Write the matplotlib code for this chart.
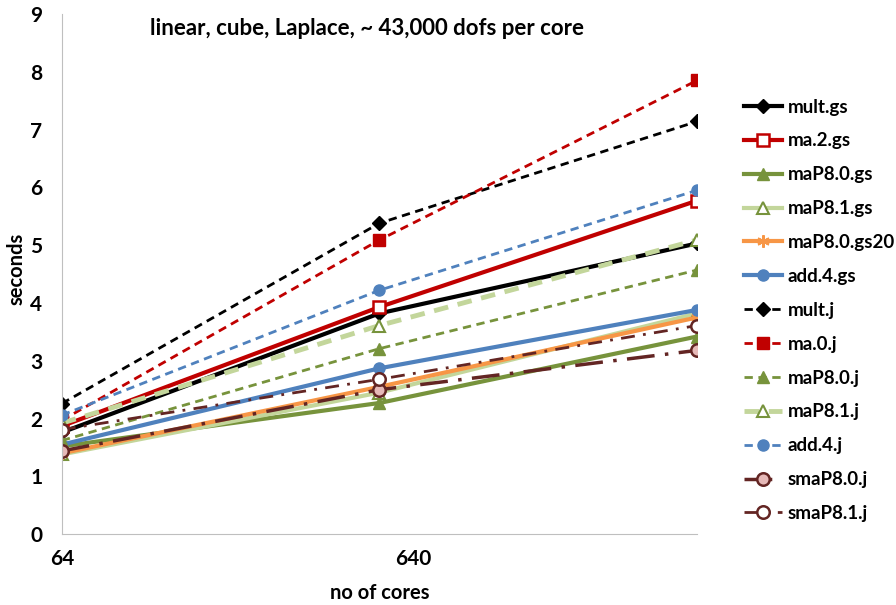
import matplotlib
matplotlib.use("Agg")
import matplotlib.pyplot as plt
import matplotlib.transforms as mtransforms

cores = [64, 640, 6400]

mult_gs = [1.76, 3.82, 5.03]
ma_2_gs = [1.87, 3.93, 5.77]
maP8_0_gs = [1.52, 2.27, 3.42]
maP8_1_gs = [1.38, 2.45, 3.82]
maP8_0_gs20 = [1.40, 2.55, 3.75]
add_4_gs = [1.55, 2.87, 3.88]
mult_j = [2.26, 5.38, 7.14]
ma_0_j = [1.97, 5.09, 7.85]
maP8_0_j = [1.62, 3.21, 4.57]
maP8_1_j = [1.92, 3.61, 5.09]
add_4_j = [2.06, 4.22, 5.95]
smaP8_0_j = [1.44, 2.50, 3.18]
smaP8_1_j = [1.81, 2.68, 3.61]

plt.rcParams.update({'font.family': 'Lato', 'font.weight': 'bold', 'font.size': 13})

fig = plt.figure(figsize=(8.96, 6.05), dpi=100)
ax = fig.add_axes([0.069, 0.117, 0.709, 0.860])

black = 'black'
red = '#C00000'
green = '#77933C'
lgreen = '#C3D69B'
orange = '#F79646'
blue = '#4F81BD'
dred = '#632523'

# solid "gs" series
ax.plot(cores, mult_gs, color=black, lw=3, marker='D', ms=7, label='mult.gs')
ax.plot(cores, ma_2_gs, color=red, lw=3, marker='s', ms=8, mfc='white', mec=red, mew=1.8, label='ma.2.gs')
ax.plot(cores, maP8_0_gs, color=green, lw=3, marker='^', ms=9, label='maP8.0.gs')
ax.plot(cores, maP8_1_gs, color=lgreen, lw=3, marker='^', ms=8, mfc='white', mec=green, mew=1.5, label='maP8.1.gs')
ax.plot(cores, maP8_0_gs20, color=orange, lw=3, marker=(6, 2, 0), ms=9, mew=1.5, label='maP8.0.gs20')
ax.plot(cores, add_4_gs, color=blue, lw=3, marker='o', ms=8, label='add.4.gs')

# dashed "j" series
ax.plot(cores, mult_j, color=black, lw=2, ls=(0, (3, 2)), marker='D', ms=7, label='mult.j')
ax.plot(cores, ma_0_j, color=red, lw=2, ls=(0, (3, 2)), marker='s', ms=8, label='ma.0.j')
ax.plot(cores, maP8_0_j, color=green, lw=2, ls=(0, (3, 2)), marker='^', ms=9, label='maP8.0.j')
ax.plot(cores, maP8_1_j, color=lgreen, lw=3.5, ls=(0, (3, 2)), marker='^', ms=8, mfc='white', mec=green, mew=1.5, label='maP8.1.j')
ax.plot(cores, add_4_j, color=blue, lw=2, ls=(0, (3, 2)), marker='o', ms=8, label='add.4.j')
ax.plot(cores, smaP8_0_j, color=dred, lw=2.5, ls=(0, (8, 3, 1, 3)), marker='o', ms=9, mfc='#E6B9B8', mec=dred, mew=1.8, label='smaP8.0.j')
ax.plot(cores, smaP8_1_j, color=dred, lw=2, ls=(0, (5, 3, 1, 3)), marker='o', ms=9, mfc='white', mec=dred, mew=1.8, label='smaP8.1.j')

ax.set_xscale('log')
ax.set_xlim(64, 6400)
ax.set_ylim(0, 9)
ax.set_xticks([64, 640])
ax.set_xticklabels(['64', '640'])
ax.minorticks_off()
ax.set_yticks(range(0, 10))

for s in ['top', 'right']:
    ax.spines[s].set_visible(False)
ax.spines['left'].set_color('#BFBFBF')
ax.spines['bottom'].set_color('#BFBFBF')
ax.tick_params(axis='both', length=0, labelsize=15)
ax.tick_params(axis='y', pad=14)
ax.tick_params(axis='x', pad=11)

# excel puts the 640 label a bit to the right
lab640 = ax.get_xticklabels()[1]
lab640.set_transform(lab640.get_transform() + mtransforms.ScaledTranslation(0.34, 0, fig.dpi_scale_trans))

ax.set_xlabel('no of cores', fontsize=14.5, fontweight='bold')
ax.set_ylabel('seconds', fontsize=14.5, fontweight='bold')
ax.xaxis.set_label_coords(0.5, -0.094)
ax.yaxis.set_label_coords(-0.055, 0.51)

fig.text(0.41, 0.953, 'linear, cube, Laplace, ~ 43,000 dofs per core', ha='center', va='center',
         fontsize=16, fontweight='bold')

fig.legend(loc='upper left', bbox_to_anchor=(0.812, 0.865), frameon=False, fontsize=13.5,
           handlelength=2.0, handletextpad=0.3, labelspacing=0.9)

fig.savefig('out.png', dpi=100)
